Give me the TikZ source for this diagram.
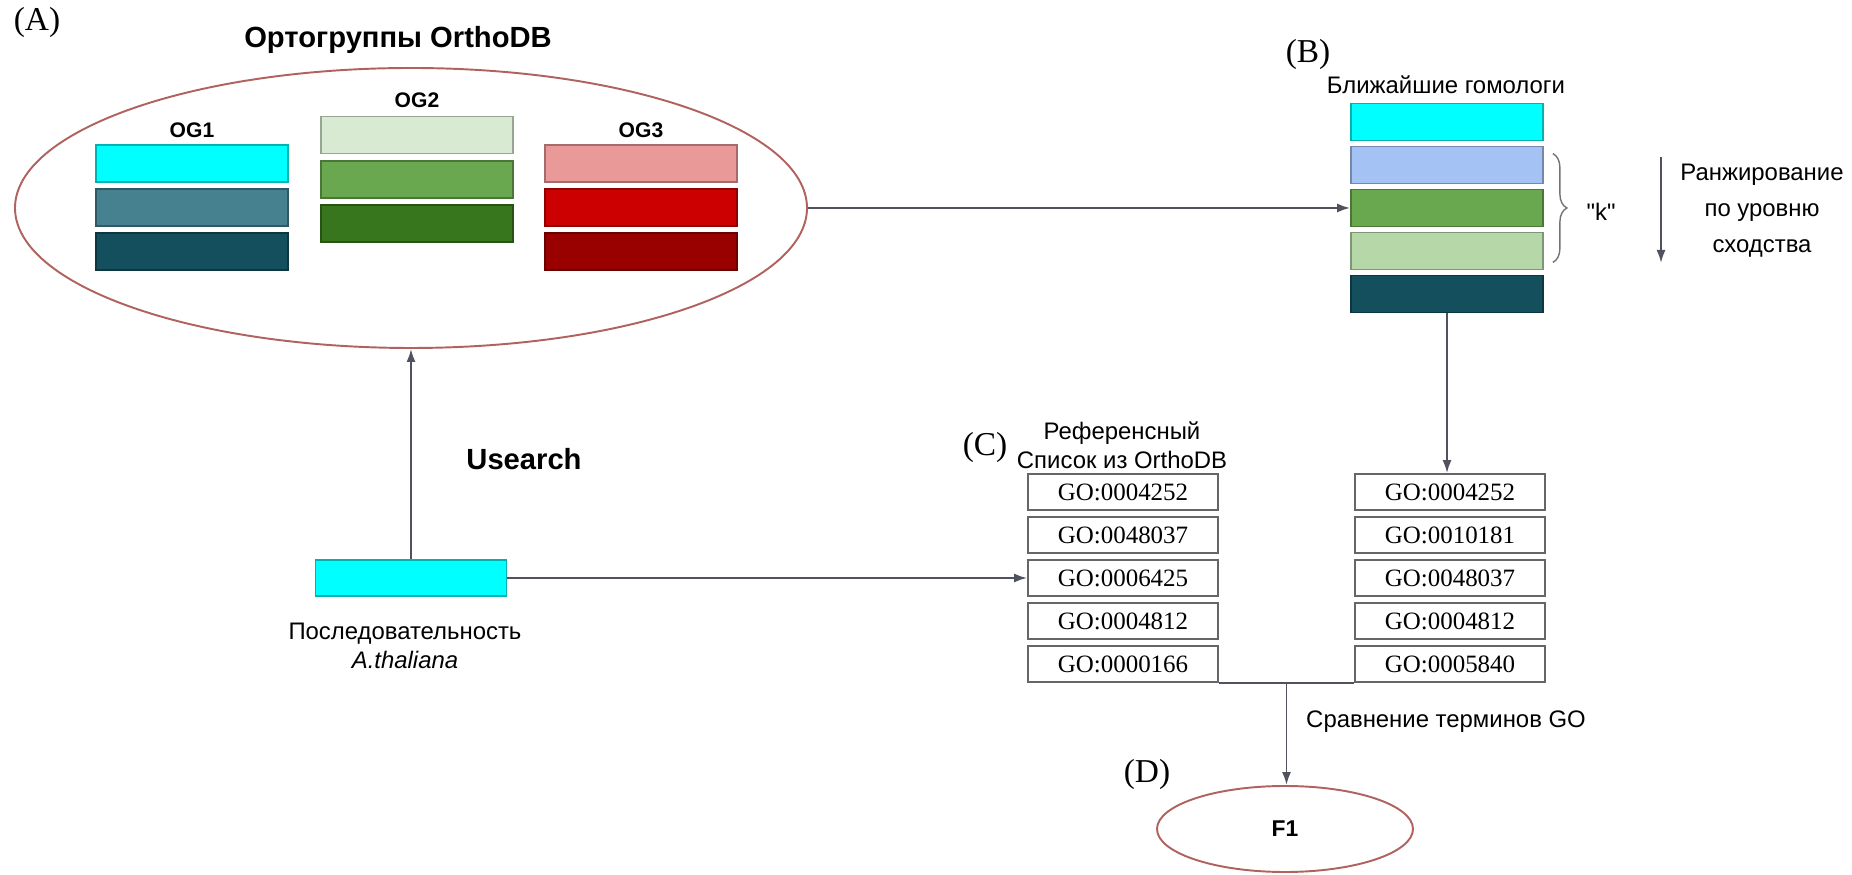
\documentclass[tikz,border=0pt]{standalone}
\usepackage{fontspec}
\setmainfont{Liberation Sans}
\newfontfamily\goserif{Liberation Serif}
\newfontfamily\straightsans{Liberation Sans}
\usetikzlibrary{shapes.geometric,arrows.meta,decorations.pathreplacing,calc}

\definecolor{ogcyan}{HTML}{00FFFF}
\definecolor{ogteal}{HTML}{45818E}
\definecolor{ogdark}{HTML}{134F5C}
\definecolor{ogpale}{HTML}{D9EAD3}
\definecolor{oggreen}{HTML}{6AA84F}
\definecolor{ogforest}{HTML}{38761D}
\definecolor{ogpink}{HTML}{EA9999}
\definecolor{ogred}{HTML}{CC0000}
\definecolor{ogmaroon}{HTML}{990000}
\definecolor{homblue}{HTML}{A4C2F4}
\definecolor{homgreen}{HTML}{B6D7A8}
\definecolor{ovalred}{HTML}{B0625E}
\definecolor{arrowgray}{HTML}{50535E}

\tikzset{
  bar/.style={draw=#1!70!black, fill=#1, line width=0.5pt, minimum width=19.2mm, minimum height=3.7mm, inner sep=0pt},
  goterm/.style={draw=black!60, fill=white, line width=0.5pt, minimum width=19mm, minimum height=3.6mm, inner sep=0pt, font=\goserif\fontsize{7.1}{8}\selectfont},
  oval/.style={ellipse, draw=ovalred, line width=0.55pt, inner sep=0pt},
  flow/.style={draw=arrowgray, line width=0.55pt, -{Latex[length=1.3mm,width=0.9mm]}},
  panel/.style={font=\goserif\fontsize{9.5}{11}\selectfont, inner sep=0pt},
  txt/.style={font=\fontsize{6.8}{8.2}\selectfont, inner sep=0pt},
  heading/.style={font=\bfseries\fontsize{8.3}{10}\selectfont, inner sep=0pt},
  oglabel/.style={font=\bfseries\fontsize{6}{7}\selectfont, inner sep=0pt}
}

\begin{document}
\begin{tikzpicture}[x=0.1mm, y=-0.1mm]
    \useasboundingbox (0,0) rectangle (1852,875);

    % (A) Orthogroups
    \node[panel] (labA) at (37,22) {(A)};
    \node[heading] (title) at (398,40) {Ортогруппы OrthoDB};
    \node[oval, minimum width=79.2mm, minimum height=28mm] (orthodb) at (411,208) {};

    \node[oglabel] (og1) at (192,130) {OG1};
    \node[bar=ogcyan] (og1a) at (192,163.5) {};
    \node[bar=ogteal] (og1b) at (192,207.5) {};
    \node[bar=ogdark] (og1c) at (192,251.5) {};

    \node[oglabel] (og2) at (417,100) {OG2};
    \node[bar=ogpale] (og2a) at (417,135) {};
    \node[bar=oggreen] (og2b) at (417,179.5) {};
    \node[bar=ogforest] (og2c) at (417,223.5) {};

    \node[oglabel] (og3) at (641,130) {OG3};
    \node[bar=ogpink] (og3a) at (641,163.5) {};
    \node[bar=ogred] (og3b) at (641,207.5) {};
    \node[bar=ogmaroon] (og3c) at (641,251.5) {};

    % (B) Closest homologs
    \node[panel] (labB) at (1308,54) {(B)};
    \node[txt] (homtitle) at (1446,85) {Ближайшие гомологи};
    \node[bar=ogcyan] (hom1) at (1447,122) {};
    \node[bar=homblue] (hom2) at (1447,165) {};
    \node[bar=oggreen] (hom3) at (1447,208) {};
    \node[bar=homgreen] (hom4) at (1447,251) {};
    \node[bar=ogdark] (hom5) at (1447,294) {};

    \draw[black!55, line width=0.4pt, decorate, decoration={brace, amplitude=1.4mm}]
        ([xshift=0.9mm, yshift=-0.8mm]hom2.north east) -- ([xshift=0.9mm, yshift=0.8mm]hom4.south east);
    \node[txt, font=\straightsans\fontsize{6.8}{8.2}\selectfont] (kk) at (1601,212) {"k"};

    % Ranking
    \coordinate (rtop) at (1661,157);
    \coordinate (rbot) at (1661,263);
    \draw[flow] (rtop) -- (rbot);
    \node[align=center, inner sep=0pt, font=\fontsize{6.8}{10.2}\selectfont] (rank) at (1762,211) {Ранжирование\\по уровню\\сходства};

    % Query sequence
    \node[bar=ogcyan, minimum width=19.1mm, minimum height=3.6mm] (seq) at (411,578) {};
    \node[txt, align=center] (seqtitle) at (405,646) {Последовательность\\\textit{A.thaliana}};
    \node[heading] (usearch) at (524,459) {Usearch};

    % (C) Reference list
    \node[panel] (labC) at (985,447) {(C)};
    \node[txt, align=center] (reftitle) at (1122,445) {Референсный\\Список из OrthoDB};
    \node[goterm] (refgo1) at (1123,492) {GO:0004252};
    \node[goterm] (refgo2) at (1123,535) {GO:0048037};
    \node[goterm] (refgo3) at (1123,578) {GO:0006425};
    \node[goterm] (refgo4) at (1123,621) {GO:0004812};
    \node[goterm] (refgo5) at (1123,664) {GO:0000166};

    % Transferred GO terms
    \node[goterm] (homgo1) at (1450,492) {GO:0004252};
    \node[goterm] (homgo2) at (1450,535) {GO:0010181};
    \node[goterm] (homgo3) at (1450,578) {GO:0048037};
    \node[goterm] (homgo4) at (1450,621) {GO:0004812};
    \node[goterm] (homgo5) at (1450,664) {GO:0005840};

    % (D) F1
    \node[panel] (labD) at (1147,774) {(D)};
    \node[oval, minimum width=25.6mm, minimum height=8.6mm, font=\bfseries\fontsize{6.5}{8}\selectfont] (f1) at (1285,829) {F1};
    \node[txt] (cmp) at (1446,722) {Сравнение терминов GO};

    % Edges
    \draw[flow] (seq.north) -- (orthodb.south);
    \draw[flow] (orthodb.east) -- (hom3.west);
    \draw[flow] (seq.east) -- (refgo3.west);
    \draw[flow] (hom5.south) -- (hom5.south |- homgo1.north);
    \draw[arrowgray, line width=0.55pt] (refgo5.south east) -- (homgo5.south west);
    \coordinate (merge) at ($(refgo5.south east)!0.5!(homgo5.south west)$);
    \draw[flow] (merge) -- (merge |- f1.north);
\end{tikzpicture}
\end{document}
